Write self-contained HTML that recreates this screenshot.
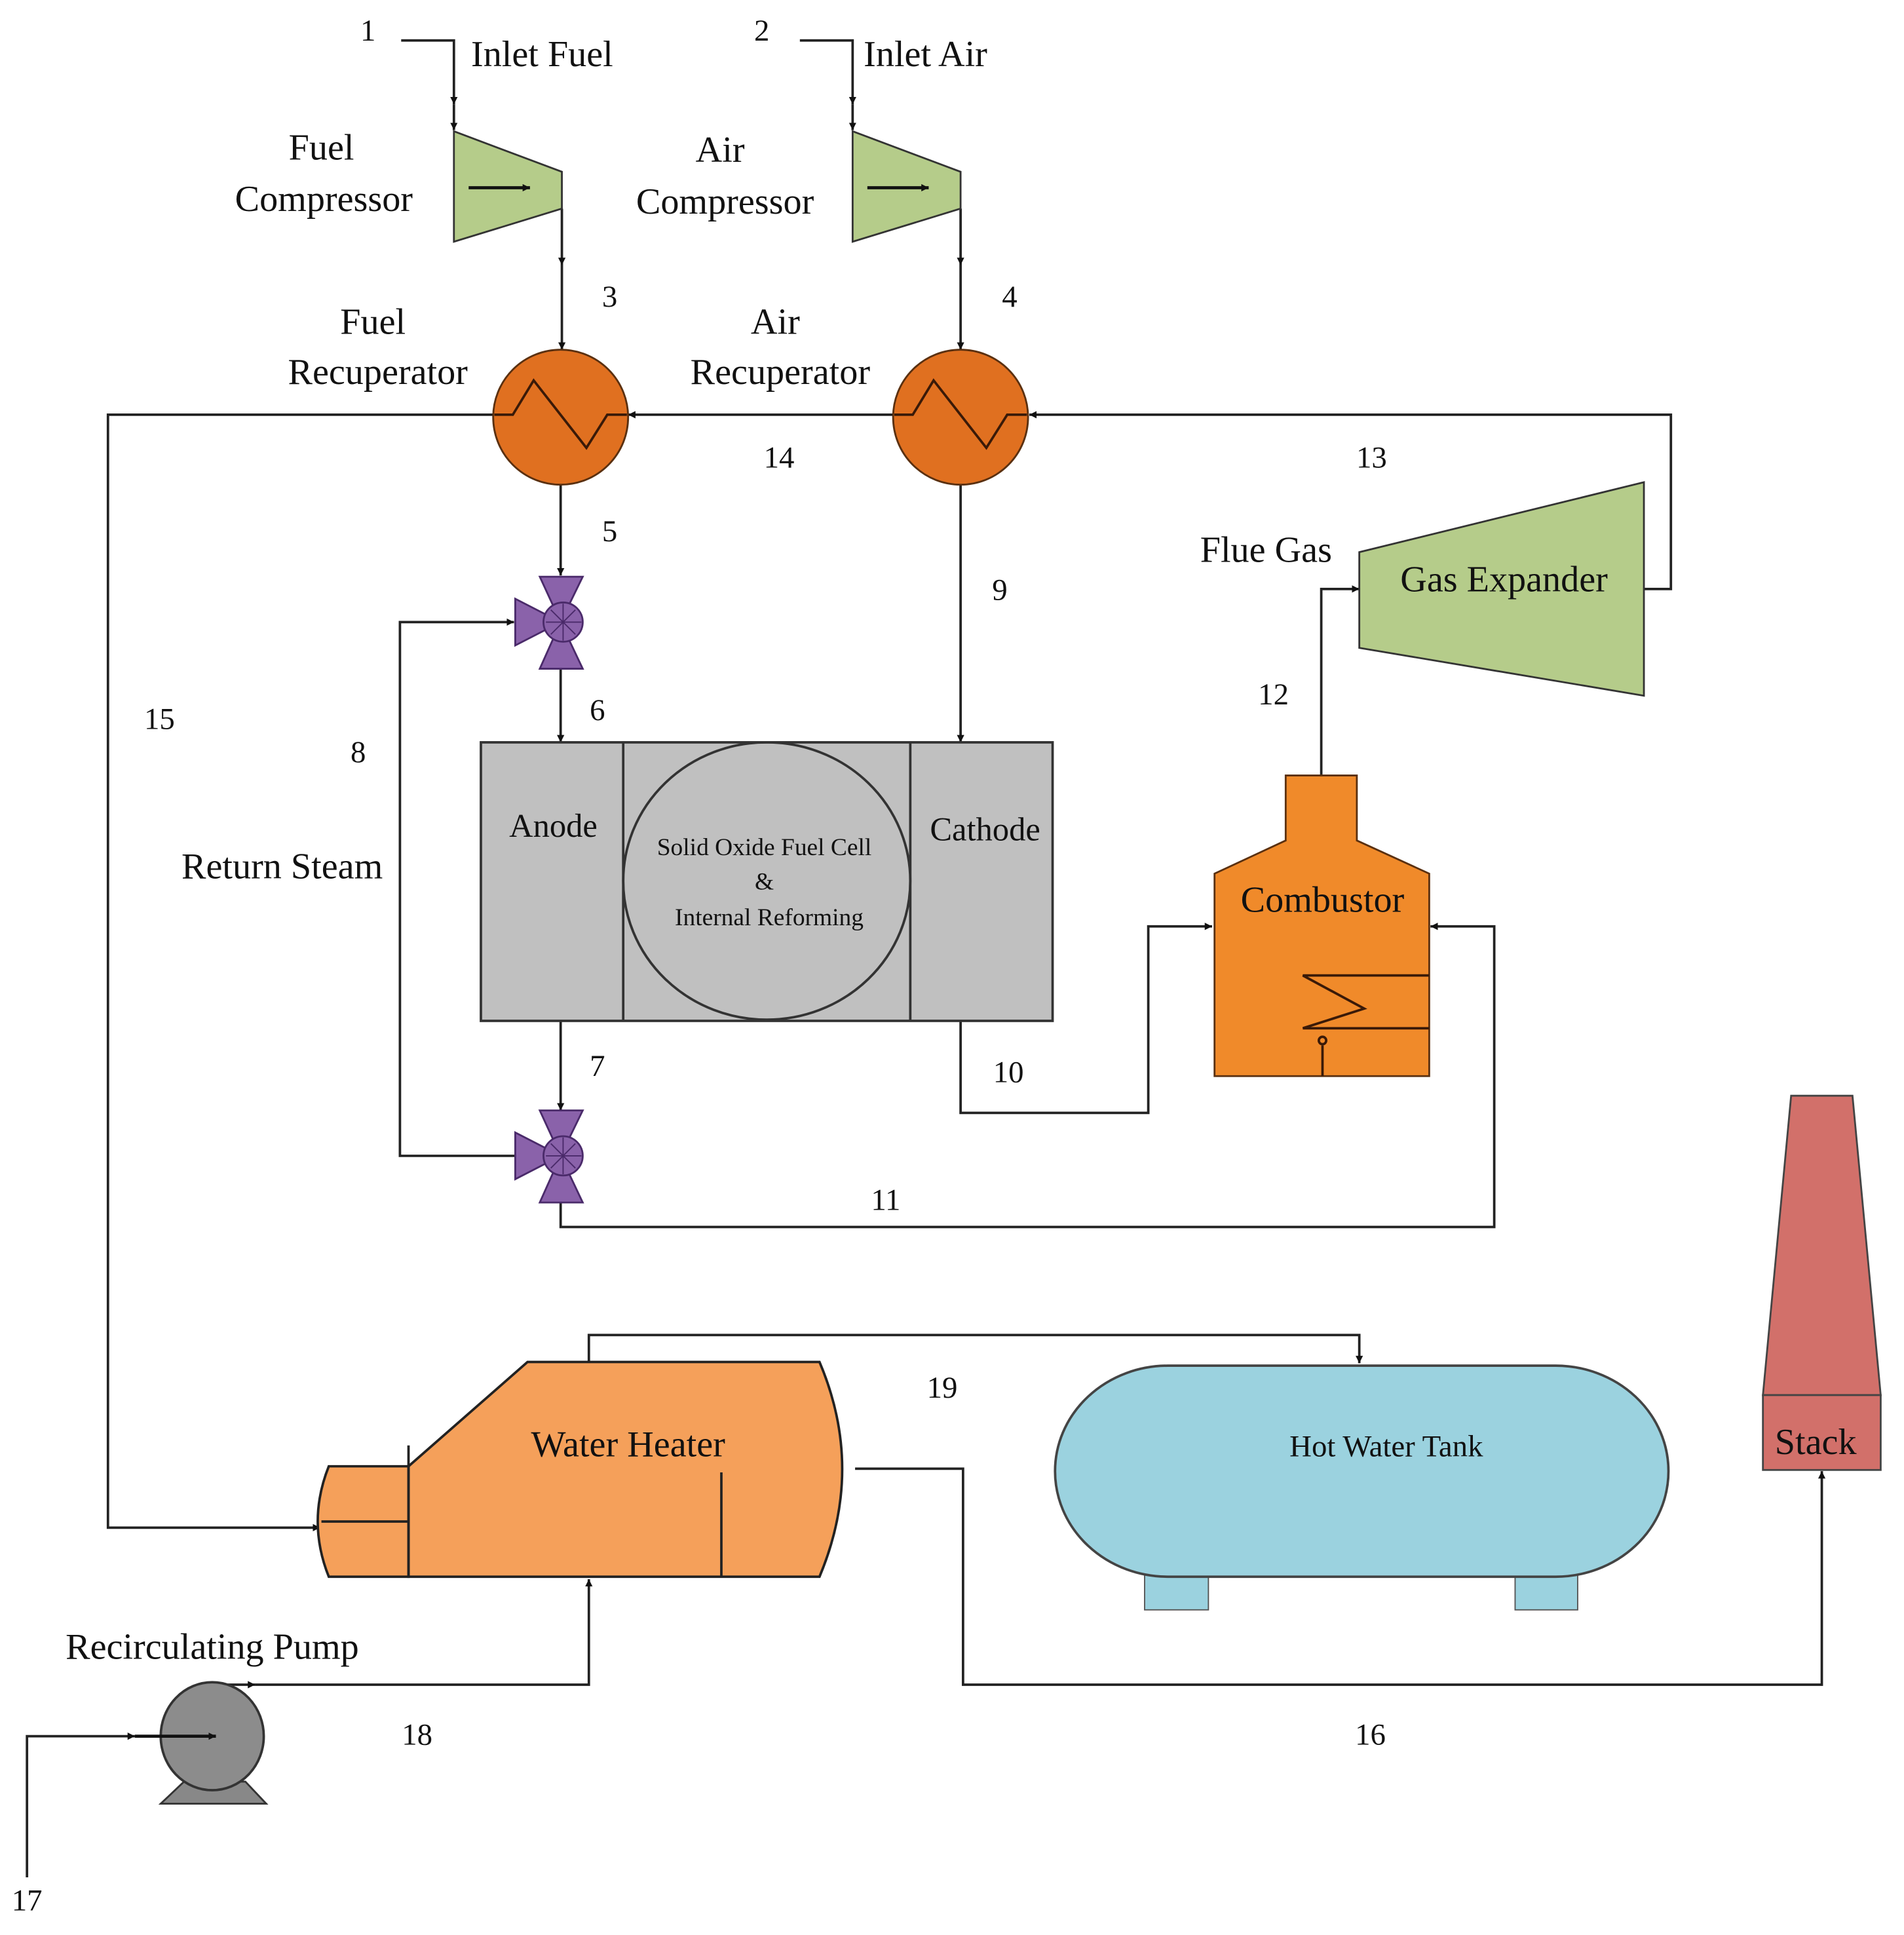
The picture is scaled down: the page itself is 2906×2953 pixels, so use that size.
<!DOCTYPE html>
<html><head><meta charset="utf-8"><style>
html,body{margin:0;padding:0;background:#fff;}
svg{display:block;}
text{font-family:"Liberation Serif",serif;fill:#111;}
</style></head><body>
<svg width="2906" height="2953" viewBox="0 0 1552 1577" preserveAspectRatio="none" xmlns="http://www.w3.org/2000/svg">
<defs>
<marker id="a" viewBox="0 0 10 10" refX="10" refY="5" markerWidth="6" markerHeight="6" orient="auto" markerUnits="userSpaceOnUse">
<path d="M0,0 L10,5 L0,10 z" fill="#111"/></marker>
</defs>
<g fill="none" stroke="#222" stroke-width="2">
<!-- inlet fuel -->
<polyline points="327,33 370,33 370,85" marker-end="url(#a)"/>
<line x1="370" y1="85" x2="370" y2="106" marker-end="url(#a)"/>
<polyline points="652,33 695,33 695,85" marker-end="url(#a)"/>
<line x1="695" y1="85" x2="695" y2="106" marker-end="url(#a)"/>
<!-- compressor outlets -->
<line x1="458" y1="170" x2="458" y2="216" marker-end="url(#a)"/>
<line x1="458" y1="216" x2="458" y2="285" marker-end="url(#a)"/>
<line x1="783" y1="170" x2="783" y2="216" marker-end="url(#a)"/>
<line x1="783" y1="216" x2="783" y2="285" marker-end="url(#a)"/>
<!-- 13 -->
<polyline points="1340,480 1362,480 1362,338 839,338" marker-end="url(#a)"/>
<!-- 14 -->
<line x1="728" y1="338" x2="512" y2="338" marker-end="url(#a)"/>
<!-- 15 -->
<polyline points="402,338 88,338 88,1245 261,1245" marker-end="url(#a)"/>
<!-- 5 -->
<line x1="457" y1="395" x2="457" y2="469" marker-end="url(#a)"/>
<!-- 9 -->
<line x1="783" y1="395" x2="783" y2="605" marker-end="url(#a)"/>
<!-- 6 -->
<line x1="457" y1="545" x2="457" y2="605" marker-end="url(#a)"/>
<!-- 7 -->
<line x1="457" y1="832" x2="457" y2="905" marker-end="url(#a)"/>
<!-- 8 -->
<polyline points="420,942 326,942 326,507 419,507" marker-end="url(#a)"/>
<!-- 10 -->
<polyline points="783,832 783,907 936,907 936,755 988,755" marker-end="url(#a)"/>
<!-- 11 -->
<polyline points="457,980 457,1000 1218,1000 1218,755 1166,755" marker-end="url(#a)"/>
<!-- 12 -->
<polyline points="1077,632 1077,480 1108,480" marker-end="url(#a)"/>
<!-- 19 -->
<polyline points="480,1110 480,1088 1108,1088 1108,1111" marker-end="url(#a)"/>
<!-- 16 -->
<polyline points="697,1197 785,1197 785,1373 1485,1373 1485,1199" marker-end="url(#a)"/>
<!-- 17 -->
<polyline points="22,1530 22,1415 110,1415" marker-end="url(#a)"/>
<!-- 18 -->
<polyline points="175,1373 208,1373" marker-end="url(#a)"/>
<polyline points="208,1373 480,1373 480,1287" marker-end="url(#a)"/>
</g>
<!-- compressors -->
<g stroke="#333" stroke-width="1.5" fill="#b5cc8a">
<polygon points="370,107 458,140 458,170 370,197"/>
<polygon points="695,107 783,140 783,170 695,197"/>
<polygon points="1108,450 1340,393 1340,567 1108,528"/>
</g>
<g stroke="#111" stroke-width="2.5"><line x1="382" y1="153" x2="432" y2="153" marker-end="url(#a)"/><line x1="707" y1="153" x2="757" y2="153" marker-end="url(#a)"/></g>
<!-- recuperators -->
<g stroke="#5a3010" stroke-width="1.5" fill="#e07020">
<circle cx="457" cy="340" r="55"/><circle cx="783" cy="340" r="55"/>
</g>
<g stroke="#3a1a08" stroke-width="2" fill="none">
<polyline points="403,338 418,338 435,310 478,365 495,338 511,338"/>
<polyline points="729,338 744,338 761,310 804,365 821,338 837,338"/>
</g>
<!-- valves -->
<g fill="#8a62aa" stroke="#4a2a6a" stroke-width="1.5">
<polygon points="440,470 475,470 457,507"/><polygon points="440,545 475,545 457,507"/><polygon points="420,488 420,526 457,507"/><circle cx="459" cy="507" r="16"/>
<polygon points="440,905 475,905 457,942"/><polygon points="440,980 475,980 457,942"/><polygon points="420,923 420,961 457,942"/><circle cx="459" cy="942" r="16"/>
</g>
<g stroke="#4a2a6a" stroke-width="1"><line x1="445" y1="507" x2="474" y2="507"/><line x1="459" y1="492" x2="459" y2="522"/><line x1="449" y1="497" x2="469" y2="517"/><line x1="449" y1="517" x2="469" y2="497"/>
<line x1="445" y1="942" x2="474" y2="942"/><line x1="459" y1="927" x2="459" y2="957"/><line x1="449" y1="932" x2="469" y2="952"/><line x1="449" y1="952" x2="469" y2="932"/></g>
<!-- SOFC -->
<rect x="392" y="605" width="466" height="227" fill="#c0c0c0" stroke="#333" stroke-width="2"/>
<g stroke="#333" stroke-width="2" fill="none"><line x1="508" y1="605" x2="508" y2="832"/><line x1="742" y1="605" x2="742" y2="832"/><ellipse cx="625" cy="718" rx="117" ry="113"/></g>
<!-- combustor -->
<polygon points="1048,632 1106,632 1106,685 1165,712 1165,877 990,877 990,712 1048,685" fill="#f08a2a" stroke="#5a3010" stroke-width="1.5"/>
<g stroke="#3a1a08" stroke-width="2" fill="none"><polyline points="1165,795 1062,795 1112,822 1062,838 1165,838"/><line x1="1078" y1="852" x2="1078" y2="877"/><circle cx="1078" cy="848" r="3" fill="#f08a2a"/></g>
<!-- water heater -->
<path d="M333,1195 L430,1110 L668,1110 Q705,1197 668,1285 L333,1285 Z" fill="#f5a05a" stroke="#222" stroke-width="2"/>
<path d="M333,1195 L268,1195 Q250,1240 268,1285 L333,1285 Z" fill="#f5a05a" stroke="#222" stroke-width="2"/>
<g stroke="#222" stroke-width="2"><line x1="333" y1="1178" x2="333" y2="1285"/><line x1="262" y1="1240" x2="333" y2="1240"/><line x1="588" y1="1200" x2="588" y2="1285"/></g>
<!-- hot water tank -->
<rect x="933" y="1278" width="52" height="34" fill="#9bd2df" stroke="#555" stroke-width="1"/>
<rect x="1235" y="1278" width="51" height="34" fill="#9bd2df" stroke="#555" stroke-width="1"/>
<rect x="860" y="1113" width="500" height="172" rx="92" ry="86" fill="#9bd2df" stroke="#444" stroke-width="2"/>
<!-- stack -->
<polygon points="1460,893 1510,893 1533,1137 1437,1137" fill="#d2706a" stroke="#444" stroke-width="1.5"/>
<rect x="1437" y="1137" width="96" height="61" fill="#d2706a" stroke="#444" stroke-width="1.5"/>
<!-- pump -->
<polygon points="145,1470 201,1470 217,1470 200,1452 150,1452 131,1470" fill="#888" stroke="#333" stroke-width="1.5"/>
<ellipse cx="173" cy="1415" rx="42" ry="44" fill="#8c8c8c" stroke="#333" stroke-width="2"/>
<line x1="110" y1="1415" x2="176" y2="1415" stroke="#111" stroke-width="2.5" marker-end="url(#a)"/>
<!-- text -->
<g font-size="30">
<text x="384" y="54">Inlet Fuel</text>
<text x="704" y="54">Inlet Air</text>
<text x="262" y="130" text-anchor="middle">Fuel</text>
<text x="264" y="172" text-anchor="middle">Compressor</text>
<text x="587" y="132" text-anchor="middle">Air</text>
<text x="591" y="174" text-anchor="middle">Compressor</text>
<text x="304" y="272" text-anchor="middle">Fuel</text>
<text x="308" y="313" text-anchor="middle">Recuperator</text>
<text x="632" y="272" text-anchor="middle">Air</text>
<text x="636" y="313" text-anchor="middle">Recuperator</text>
<text x="1032" y="458" text-anchor="middle">Flue Gas</text>
<text x="1226" y="482" text-anchor="middle">Gas Expander</text>
<text x="451" y="682" text-anchor="middle" font-size="27" fill="#222">Anode</text>
<text x="803" y="685" text-anchor="middle" font-size="27" fill="#222">Cathode</text>
<text x="230" y="716" text-anchor="middle">Return Steam</text>
<text x="1078" y="743" text-anchor="middle">Combustor</text>
<text x="512" y="1187" text-anchor="middle">Water Heater</text>
<text x="1480" y="1185" text-anchor="middle">Stack</text>
<text x="173" y="1352" text-anchor="middle">Recirculating Pump</text>
</g>
<g font-size="20" fill="#333" text-anchor="middle">
<text x="623" y="697">Solid Oxide Fuel Cell</text>
<text x="623" y="725">&amp;</text>
<text x="627" y="754">Internal Reforming</text>
</g>
<text x="1130" y="1187" font-size="25" text-anchor="middle">Hot Water Tank</text>
<g font-size="25" text-anchor="middle">
<text x="300" y="33">1</text><text x="621" y="33">2</text>
<text x="497" y="250">3</text><text x="823" y="250">4</text>
<text x="497" y="441">5</text><text x="487" y="587">6</text><text x="487" y="877">7</text>
<text x="292" y="621">8</text><text x="815" y="489">9</text><text x="822" y="882">10</text>
<text x="722" y="986">11</text><text x="1038" y="574">12</text><text x="1118" y="381">13</text>
<text x="635" y="381">14</text><text x="130" y="594">15</text><text x="1117" y="1422">16</text>
<text x="22" y="1557">17</text><text x="340" y="1422">18</text><text x="768" y="1139">19</text>
</g>
</svg>
</body></html>
